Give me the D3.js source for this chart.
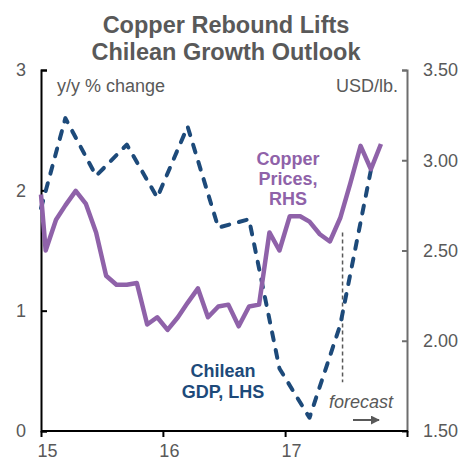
<!DOCTYPE html>
<html>
<head>
<meta charset="utf-8">
<script src="https://d3js.org/d3.v7.min.js"></script>
<style>
  body { margin: 0; background: #fff; }
  svg { font-family: "Liberation Sans", Arial, sans-serif; }
  .tick text { fill: #595959; font-size: 18px; }
</style>
</head>
<body>
<div id="chart-area"></div>
<script>
// Chilean GDP, y/y % change (left axis), quarterly
var gdpDates = ["2015-01-01", "2015-03-15", "2015-06-15", "2015-09-15", "2015-12-15",
    "2016-03-15", "2016-06-15", "2016-09-15", "2016-12-15",
    "2017-03-15", "2017-06-15", "2017-09-15"];
var gdpValues = [1.85, 2.60, 2.12, 2.38, 1.94, 2.53, 1.69, 1.76, 0.52, 0.11, 0.88, 2.17];

// Copper prices, USD/lb (right axis), monthly from Jan 2015
var copperStart = 2.81;
var copperValues = [2.50, 2.67, 2.75, 2.83, 2.76, 2.60, 2.36, 2.31, 2.31, 2.32, 2.09, 2.13,
    2.06, 2.13, 2.21, 2.29, 2.13, 2.19, 2.20, 2.08, 2.19, 2.20, 2.60, 2.50,
    2.69, 2.69, 2.66, 2.59, 2.55, 2.68, 2.87, 3.08, 2.95, 3.09];

var leftTicks = [0, 1, 2, 3];
var rightTicks = [1.5, 2.0, 2.5, 3.0, 3.5];
var yearTicks = ["2015", "2016", "2017", "2018"];
var forecastDate = "2017-06-22";

var parse = d3.timeParse("%Y-%m-%d");

var margin = { left: 41, right: 67, top: 70, bottom: 29 };
var width = 474 - margin.left - margin.right,
    height = 460 - margin.top - margin.bottom;

var svg = d3.select("#chart-area")
    .append("svg")
        .attr("width", 474)
        .attr("height", 460);

var g = svg.append("g")
    .attr("transform", "translate(" + margin.left + ", " + margin.top + ")");

// scales
var x = d3.scaleTime()
    .domain([parse("2015-01-01"), parse("2018-01-01")])
    .range([0, width]);

var y = d3.scaleLinear()
    .domain([0, 3])
    .range([height, 0]);

var y2 = d3.scaleLinear()
    .domain([1.5, 3.5])
    .range([height, 0]);

// data rows
var gdp = gdpDates.map(function(d, i){
    return { date: parse(d), value: gdpValues[i] };
});

var copper = [{ date: parse("2015-01-01"), value: copperStart }].concat(
    copperValues.map(function(v, i){
        return { date: new Date(2015, i, 15), value: v };
    }));

// title
var title = svg.append("text")
    .attr("text-anchor", "middle")
    .attr("font-size", "23.5px")
    .attr("font-weight", "bold")
    .attr("fill", "#595959");
title.append("tspan").attr("x", 226).attr("y", 33).text("Copper Rebound Lifts");
title.append("tspan").attr("x", 226).attr("y", 60).text("Chilean Growth Outlook");

// axes
var xAxisCall = d3.axisBottom(x)
    .tickValues(yearTicks.map(function(d){ return parse(d + "-01-01"); }))
    .tickSize(6)
    .tickSizeOuter(0)
    .tickPadding(7)
    .tickFormat(function(d){ return d.getFullYear() < 2018 ? d3.timeFormat("%y")(d) : ""; });

var yAxisCall = d3.axisLeft(y)
    .tickValues(leftTicks)
    .tickSize(-6)
    .tickSizeOuter(-6)
    .tickPadding(15)
    .tickFormat(d3.format("d"));

var y2AxisCall = d3.axisRight(y2)
    .tickValues(rightTicks)
    .tickSize(-5)
    .tickSizeOuter(-5)
    .tickPadding(16)
    .tickFormat(d3.format(".2f"));

var y2AxisGroup = g.append("g")
    .attr("class", "y2 axis")
    .attr("transform", "translate(" + width + ",0)")
    .call(y2AxisCall);
y2AxisGroup.selectAll("path, line").attr("stroke", "#6e6e6e").attr("stroke-width", 2);

var yAxisGroup = g.append("g")
    .attr("class", "y axis")
    .call(yAxisCall);
yAxisGroup.selectAll("path, line").attr("stroke", "#000").attr("stroke-width", 2);

var xAxisGroup = g.append("g")
    .attr("class", "x axis")
    .attr("transform", "translate(0," + height + ")")
    .call(xAxisCall);
xAxisGroup.selectAll("path, line").attr("stroke", "#000").attr("stroke-width", 2);
xAxisGroup.selectAll("text").attr("x", 6);
xAxisGroup.select(".domain").attr("d", "M0,0H" + (width + 1));

svg.selectAll(".tick text").attr("font-family", null).attr("font-size", null);

// axis unit labels
g.append("text")
    .attr("x", 16)
    .attr("y", 22)
    .attr("font-size", "18px")
    .attr("fill", "#595959")
    .text("y/y % change");

g.append("text")
    .attr("x", width - 9)
    .attr("y", 22)
    .attr("font-size", "18px")
    .attr("text-anchor", "end")
    .attr("fill", "#595959")
    .text("USD/lb.");

// forecast marker
g.append("line")
    .attr("x1", x(parse(forecastDate)))
    .attr("x2", x(parse(forecastDate)))
    .attr("y1", y2(2.60))
    .attr("y2", y2(1.77))
    .attr("stroke", "#595959")
    .attr("stroke-width", 1.5)
    .attr("stroke-dasharray", "4,3");

// lines
var gdpLine = d3.line()
    .x(function(d){ return x(d.date); })
    .y(function(d){ return y(d.value); });

var copperLine = d3.line()
    .x(function(d){ return x(d.date); })
    .y(function(d){ return y2(d.value); });

g.append("path")
    .datum(gdp)
    .attr("fill", "none")
    .attr("stroke", "#1d4a7a")
    .attr("stroke-width", 4)
    .attr("stroke-linecap", "round")
    .attr("stroke-linejoin", "round")
    .attr("stroke-dasharray", "8,10")
    .attr("d", gdpLine);

g.append("path")
    .datum(copper)
    .attr("fill", "none")
    .attr("stroke", "#8f62a9")
    .attr("stroke-width", 4.5)
    .attr("stroke-linejoin", "round")
    .attr("d", copperLine);

// series labels
var cLabel = svg.append("text")
    .attr("text-anchor", "middle")
    .attr("font-size", "18px")
    .attr("font-weight", "bold")
    .attr("fill", "#8f62a9");
["Copper", "Prices,", "RHS"].forEach(function(t, i){
    cLabel.append("tspan").attr("x", 288).attr("y", 165 + i * 20).text(t);
});

var gLabel = svg.append("text")
    .attr("text-anchor", "middle")
    .attr("font-size", "18px")
    .attr("font-weight", "bold")
    .attr("fill", "#1d4a7a");
["Chilean", "GDP, LHS"].forEach(function(t, i){
    gLabel.append("tspan").attr("x", 223).attr("y", 377 + i * 21).text(t);
});

// forecast label and arrow
svg.append("text")
    .attr("x", 361)
    .attr("y", 408)
    .attr("text-anchor", "middle")
    .attr("font-size", "18px")
    .attr("font-style", "italic")
    .attr("fill", "#595959")
    .text("forecast");

svg.append("defs").append("marker")
    .attr("id", "arrowhead")
    .attr("viewBox", "0 0 10 10")
    .attr("refX", 9)
    .attr("refY", 5)
    .attr("markerWidth", 4.5)
    .attr("markerHeight", 4.5)
    .attr("orient", "auto")
  .append("path")
    .attr("d", "M0,0L10,5L0,10Z")
    .attr("fill", "#595959");

svg.append("line")
    .attr("x1", 353)
    .attr("x2", 379)
    .attr("y1", 420)
    .attr("y2", 420)
    .attr("stroke", "#595959")
    .attr("stroke-width", 2)
    .attr("marker-end", "url(#arrowhead)");
</script>
</body>
</html>
